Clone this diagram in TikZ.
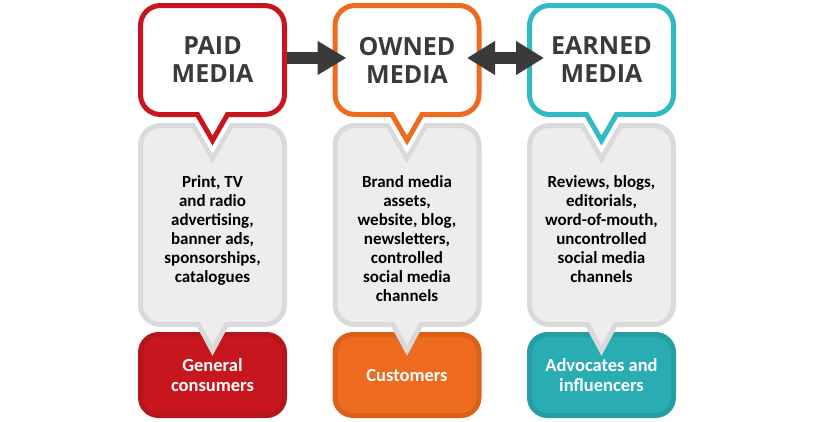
\documentclass[tikz,border=0pt]{standalone}
\usepackage{fontspec}
\setmainfont{Carlito}
\newfontfamily\headfont{Open Sans}
\definecolor{PaidRed}{RGB}{200, 22, 30}
\definecolor{PaidRedDark}{RGB}{181, 21, 28}
\definecolor{OwnedOrange}{RGB}{237, 106, 31}
\definecolor{OwnedOrangeDark}{RGB}{219, 97, 27}
\definecolor{EarnedTeal}{RGB}{47, 186, 196}
\definecolor{EarnedTealFill}{RGB}{41, 173, 178}
\definecolor{EarnedTealDark}{RGB}{36, 157, 163}
\definecolor{Ink}{RGB}{58, 58, 58}
\definecolor{BoxGrey}{RGB}{237, 237, 237}
\definecolor{BoxLine}{RGB}{218, 218, 218}
\usetikzlibrary{arrows.meta, positioning}

\begin{document}
\begin{tikzpicture}[x=1pt, y=-1pt, every node/.style={inner sep=0pt, outer sep=0pt},
    headbox/.style={minimum width=144pt, minimum height=109pt, align=center, text=Ink, font=\headfont\bfseries\fontsize{25}{28}\selectfont},
    headline/.style={line width=5pt, line join=miter, preaction={draw=white, line width=13pt}},
    bodybox/.style={minimum width=144pt, minimum height=199pt},
    bodytext/.style={align=center, text=black, font=\bfseries\fontsize{17}{19}\selectfont},
    bodyline/.style={draw=BoxLine, fill=BoxGrey, line width=5pt},
    footbox/.style={draw, line width=5pt, rounded corners=18pt, minimum width=144pt, minimum height=81pt, align=center, text=white, font=\bfseries\fontsize{18.5}{20}\selectfont},
    fatarrow/.style={draw=Ink, line width=12pt}]
    \useasboundingbox (0,0) rectangle (820,421);

    % headings
    \node[headbox] (paid) at (212.5,60) {PAID\\MEDIA};
    \node[headbox, right=50.5pt of paid] (owned) {OWNED\\MEDIA};
    \node[headbox, right=50.5pt of owned] (earned) {EARNED\\MEDIA};

    \node[bodybox, below=11pt of paid] (paidbody) {};
    \node[bodybox, below=11pt of owned] (ownedbody) {};
    \node[bodybox, below=11pt of earned] (earnedbody) {};

    \node[footbox, draw=PaidRedDark, fill=PaidRed, below=10pt of paidbody] (paidaud) {General\\consumers};
    \node[footbox, draw=OwnedOrangeDark, fill=OwnedOrange, below=10pt of ownedbody] (ownedaud) {Customers};
    \node[footbox, draw=EarnedTealDark, fill=EarnedTealFill, below=10pt of earnedbody] (earnedaud) {Advocates and\\influencers};

    % grey boxes
    \draw[bodyline] ([xshift=-19pt]paidbody.north) [rounded corners=20pt] -- (paidbody.north west) -- (paidbody.south west) [sharp corners] -- ([xshift=-14pt]paidbody.south) -- ([yshift=-26pt]paidbody.south) -- ([xshift=14pt]paidbody.south) [rounded corners=20pt] -- (paidbody.south east) -- (paidbody.north east) [sharp corners] -- ([xshift=19pt]paidbody.north) -- ([yshift=-33pt]paidbody.north) -- cycle;
    \draw[bodyline] ([xshift=-19pt]ownedbody.north) [rounded corners=20pt] -- (ownedbody.north west) -- (ownedbody.south west) [sharp corners] -- ([xshift=-14pt]ownedbody.south) -- ([yshift=-26pt]ownedbody.south) -- ([xshift=14pt]ownedbody.south) [rounded corners=20pt] -- (ownedbody.south east) -- (ownedbody.north east) [sharp corners] -- ([xshift=19pt]ownedbody.north) -- ([yshift=-33pt]ownedbody.north) -- cycle;
    \draw[bodyline] ([xshift=-19pt]earnedbody.north) [rounded corners=20pt] -- (earnedbody.north west) -- (earnedbody.south west) [sharp corners] -- ([xshift=-14pt]earnedbody.south) -- ([yshift=-26pt]earnedbody.south) -- ([xshift=14pt]earnedbody.south) [rounded corners=20pt] -- (earnedbody.south east) -- (earnedbody.north east) [sharp corners] -- ([xshift=19pt]earnedbody.north) -- ([yshift=-33pt]earnedbody.north) -- cycle;

    \node[bodytext, below=50pt of paidbody.north] (paidtxt) {Print, TV\\and radio\\advertising,\\banner ads,\\sponsorships,\\catalogues};
    \node[bodytext, below=50pt of ownedbody.north] (ownedtxt) {Brand media\\assets,\\website, blog,\\newsletters,\\controlled\\social media\\channels};
    \node[bodytext, below=50pt of earnedbody.north] (earnedtxt) {Reviews, blogs,\\editorials,\\word-of-mouth,\\uncontrolled\\social media\\channels};

    % speech bubbles
    \draw[headline, draw=PaidRed] ([xshift=-15pt]paid.south) [rounded corners=20pt] -- (paid.south west) -- (paid.north west) -- (paid.north east) -- (paid.south east) [sharp corners] -- ([xshift=15pt]paid.south) -- ([yshift=-26pt]paid.south) -- cycle;
    \draw[headline, draw=OwnedOrange] ([xshift=-15pt]owned.south) [rounded corners=20pt] -- (owned.south west) -- (owned.north west) -- (owned.north east) -- (owned.south east) [sharp corners] -- ([xshift=15pt]owned.south) -- ([yshift=-26pt]owned.south) -- cycle;
    \draw[headline, draw=EarnedTeal] ([xshift=-15pt]earned.south) [rounded corners=20pt] -- (earned.south west) -- (earned.north west) -- (earned.north east) -- (earned.south east) [sharp corners] -- ([xshift=15pt]earned.south) -- ([yshift=-26pt]earned.south) -- cycle;

    \draw[fatarrow, -{Triangle[width=32pt,length=29pt]}] ([xshift=2.5pt,yshift=2pt]paid.east) -- ([xshift=11.5pt,yshift=2pt]owned.west);
    \draw[fatarrow, {Triangle[width=32pt,length=28pt]}-{Triangle[width=32pt,length=28pt]}] ([xshift=-12pt,yshift=2pt]owned.east) -- ([xshift=14.5pt,yshift=2pt]earned.west);
\end{tikzpicture}
\end{document}
